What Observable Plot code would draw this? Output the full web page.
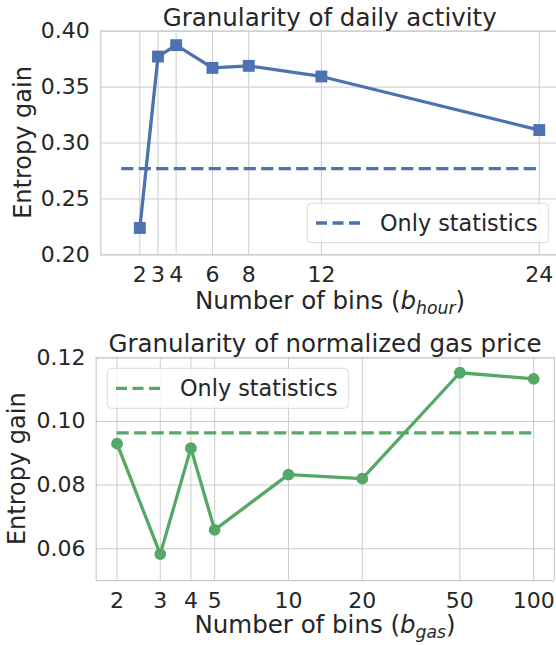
<!DOCTYPE html>
<html>
<head>
<meta charset="utf-8">
<script src="https://cdn.jsdelivr.net/npm/d3@7"></script>
<script src="https://cdn.jsdelivr.net/npm/@observablehq/plot@0.6"></script>
<style>
  html, body { margin: 0; padding: 0; background: #fff; }
  svg { display: block; }
</style>
</head>
<body>
<div id="chart"></div>
<script>
// ---- data ----
const hourBins = [2, 3, 4, 6, 8, 12, 24];
const hourGain = [0.2240, 0.3773, 0.3875, 0.3672, 0.3690, 0.3595, 0.3116];
const hourStatsOnly = 0.2771;
const hourStatsRange = [1, 24];
const hourYTicks = [0.20, 0.25, 0.30, 0.35, 0.40];

const gasBins = [2, 3, 4, 5, 10, 20, 50, 100];
const gasGain = [0.0930, 0.0583, 0.0916, 0.0659, 0.0833, 0.0820, 0.1153, 0.1134];
const gasStatsOnly = 0.0964;
const gasStatsRange = [2, 100];
const gasYTicks = [0.06, 0.08, 0.10, 0.12];

const titles = ["Granularity of daily activity", "Granularity of normalized gas price"];
const yLabel = "Entropy gain";
const xLabelMain = "Number of bins (";
const xSubs = ["hour", "gas"];
const legendLabel = "Only statistics";

// ---- styles ----
const BLUE = "#4c72b0", GREEN = "#55a868", GRID = "#cccccc", TEXT = "#262626";
const FONT = "DejaVu Sans";
const LW = 3.3;

const hourData = hourBins.map((b, i) => ({bins: b, gain: hourGain[i]}));
const gasData = gasBins.map((b, i) => ({bins: b, gain: gasGain[i]}));

function frameMarks(xd, yd, right) {
  const m = [
    Plot.ruleX([xd[0]], {stroke: GRID, strokeWidth: 1.25}),
    Plot.ruleY([yd[0], yd[1]], {stroke: GRID, strokeWidth: 1.25})
  ];
  if (right) m.push(Plot.ruleX([xd[1]], {stroke: GRID, strokeWidth: 1.25}));
  return m;
}

function addText(svg, opts) {
  const t = d3.select(svg).append("text")
    .attr("x", opts.x).attr("y", opts.y)
    .attr("fill", TEXT)
    .attr("font-family", FONT)
    .attr("font-size", opts.size)
    .attr("text-anchor", opts.anchor || "middle");
  if (opts.rotate) t.attr("transform", `rotate(-90 ${opts.x} ${opts.y})`);
  return t;
}

function addXLabel(svg, cx, y, sub) {
  const t = addText(svg, {x: cx, y, size: 24.5});
  t.append("tspan").text(xLabelMain);
  t.append("tspan").attr("font-style", "italic").text("b");
  t.append("tspan").attr("font-style", "italic").attr("font-size", 17.2).attr("dy", 4.5).text(sub);
  t.append("tspan").attr("dy", -4.5).text(")");
}

function addLegend(svg, box, color) {
  const g = d3.select(svg).append("g");
  g.append("rect")
    .attr("x", box.x).attr("y", box.y).attr("width", box.w).attr("height", box.h)
    .attr("rx", 4).attr("fill", "white").attr("fill-opacity", 0.8)
    .attr("stroke", "#d9d9d9").attr("stroke-width", 1);
  const cy = box.y + box.h / 2;
  g.append("line")
    .attr("x1", box.x + 8.7).attr("x2", box.x + 52.7).attr("y1", cy).attr("y2", cy)
    .attr("stroke", color).attr("stroke-width", LW).attr("stroke-dasharray", "11,5.5");
  addText(svg, {x: box.x + 72.7, y: cy + 8, size: 22.3, anchor: "start"}).text(legendLabel);
}

// ---- top panel ----
const xd1 = [-0.15, 24.95], yd1 = [0.2, 0.4];
const topPlot = Plot.plot({
  width: 556, height: 320,
  marginTop: 30.7, marginBottom: 65.7, marginLeft: 100.3, marginRight: 0,
  style: {fontFamily: FONT, color: TEXT, background: "white", overflow: "visible"},
  x: {domain: xd1, label: null, axis: null},
  y: {domain: yd1, label: null},
  marks: [
    Plot.gridX(hourBins, {stroke: GRID, strokeOpacity: 1, strokeWidth: 1}),
    Plot.gridY(hourYTicks, {stroke: GRID, strokeOpacity: 1, strokeWidth: 1}),
    ...frameMarks(xd1, yd1, false),
    Plot.ruleY([hourStatsOnly], {x1: hourStatsRange[0], x2: hourStatsRange[1], stroke: BLUE, strokeWidth: LW, strokeDasharray: "12.2,5.3"}),
    Plot.line(hourData, {x: "bins", y: "gain", stroke: BLUE, strokeWidth: LW}),
    Plot.dot(hourData, {x: "bins", y: "gain", symbol: "square", r: 6.7, fill: BLUE}),
    Plot.text(hourBins, {x: d => d, text: d => String(d), frameAnchor: "bottom", lineAnchor: "top", dy: 12, fontSize: 22, fill: TEXT}),
    Plot.axisY(hourYTicks, {tickSize: 0, tickPadding: 11, fontSize: 22, tickFormat: d3.format(".2f"), label: null})
  ]
});

addText(topPlot, {x: 329.7, y: 26, size: 24.5}).text(titles[0]);
addText(topPlot, {x: 31, y: 142.5, size: 24, rotate: true}).text(yLabel);
addXLabel(topPlot, 330, 309.3, xSubs[0]);
addLegend(topPlot, {x: 307.3, y: 203.3, w: 241, h: 39.4}, BLUE);

// ---- bottom panel ----
const xd2 = [1.644, 121.6], yd2 = [0.05, 0.12];
const bottomPlot = Plot.plot({
  width: 556, height: 325,
  marginTop: 37.3, marginBottom: 65, marginLeft: 95.7, marginRight: 2,
  style: {fontFamily: FONT, color: TEXT, background: "white", overflow: "visible"},
  x: {type: "log", domain: xd2, label: null, axis: null},
  y: {domain: yd2, label: null},
  marks: [
    Plot.gridX(gasBins, {stroke: GRID, strokeOpacity: 1, strokeWidth: 1}),
    Plot.gridY(gasYTicks, {stroke: GRID, strokeOpacity: 1, strokeWidth: 1}),
    ...frameMarks(xd2, yd2, true),
    Plot.ruleY([gasStatsOnly], {x1: gasStatsRange[0], x2: gasStatsRange[1], stroke: GREEN, strokeWidth: LW, strokeDasharray: "12.2,5.3"}),
    Plot.line(gasData, {x: "bins", y: "gain", stroke: GREEN, strokeWidth: LW}),
    Plot.dot(gasData, {x: "bins", y: "gain", r: 5.9, fill: GREEN}),
    Plot.text(gasBins, {x: d => d, text: d => String(d), frameAnchor: "bottom", lineAnchor: "top", dy: 12, fontSize: 22, fill: TEXT}),
    Plot.axisY(gasYTicks, {tickSize: 0, tickPadding: 10.8, fontSize: 22, tickFormat: d3.format(".2f"), label: null})
  ]
});

addText(bottomPlot, {x: 325, y: 31.7, size: 24.5}).text(titles[1]);
addText(bottomPlot, {x: 25.5, y: 148.7, size: 24, rotate: true}).text(yLabel);
addXLabel(bottomPlot, 325, 313.3, xSubs[1]);
addLegend(bottomPlot, {x: 107.3, y: 48.3, w: 241, h: 40}, GREEN);

document.getElementById("chart").append(topPlot, bottomPlot);
</script>
</body>
</html>
